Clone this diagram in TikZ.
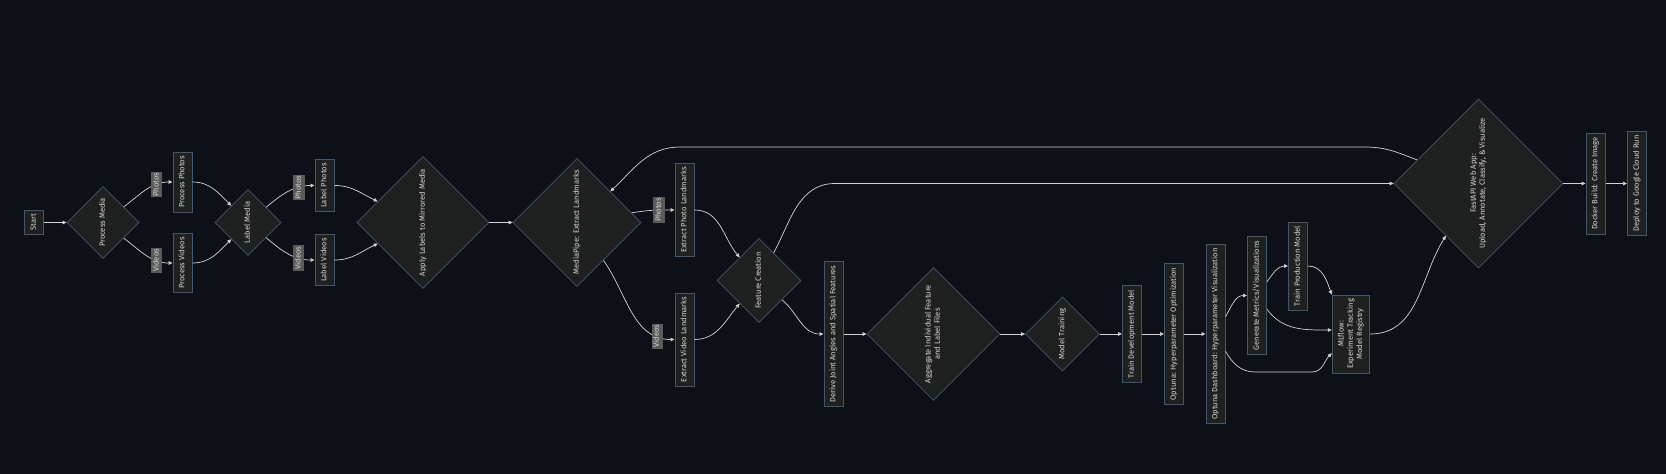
\documentclass[tikz,border=0pt]{standalone}
\usepackage{fontspec}
\setmainfont{Fira Sans}
\usepackage{graphicx}
\usetikzlibrary{shapes.geometric,arrows.meta}

\definecolor{bgdark}{HTML}{0D1117}
\definecolor{nodefill}{HTML}{1F2020}
\definecolor{nodeline}{HTML}{43566B}
\definecolor{flowline}{HTML}{D3D3D3}
\definecolor{nodetext}{HTML}{D6D6D6}
\definecolor{labelfill}{HTML}{5A5A5A}

\newcommand{\vtxt}[1]{\rotatebox{90}{\begin{tabular}{@{}c@{}}#1\end{tabular}}}
\newcommand{\vlab}[1]{\rotatebox{90}{\strut #1}}

\tikzset{
  vbox/.style={draw=nodeline, fill=nodefill, line width=0.8pt, text=nodetext,
    inner xsep=5pt, inner ysep=4pt, font=\fontsize{7.6}{9.2}\selectfont},
  vdia/.style={diamond, aspect=1, draw=nodeline, fill=nodefill, line width=0.8pt,
    text=nodetext, inner sep=0pt, minimum size=#1, font=\fontsize{7.6}{9.2}\selectfont},
  elabel/.style={fill=labelfill, text=nodetext, inner xsep=1pt, inner ysep=1pt,
    font=\fontsize{7.6}{9.2}\selectfont},
  flow/.style={draw=flowline, line width=0.7pt, -{Triangle[length=4pt,width=3.6pt]}}
}

\begin{document}
\begin{tikzpicture}[x=1pt,y=1pt]
  \fill[bgdark] (0,0) rectangle (1666,-474);
  \useasboundingbox (0,0) rectangle (1666,-474);

  \node[vbox] (start) at (34,-222.5) {\vtxt{Start}};
  \node[vdia=72pt] (pm) at (103,-222.5) {\vtxt{Process Media}};
  \node[vbox] (pp) at (182.5,-182) {\vtxt{Process Photos}};
  \node[vbox] (pv) at (182.5,-263) {\vtxt{Process Videos}};
  \node[vdia=66pt] (lm) at (248,-222.5) {\vtxt{Label Media}};
  \node[vbox] (lp) at (324.5,-185.5) {\vtxt{Label Photos}};
  \node[vbox] (lv) at (324.5,-260) {\vtxt{Label Videos}};
  \node[vdia=132pt] (al) at (423,-222.5) {\vtxt{Apply Labels to Mirrored Media}};
  \node[vdia=128pt] (mp) at (577,-222.5) {\vtxt{MediaPipe: Extract Landmarks}};
  \node[vbox] (epl) at (684.5,-210) {\vtxt{Extract Photo Landmarks}};
  \node[vbox] (evl) at (684.5,-339.5) {\vtxt{Extract Video Landmarks}};
  \node[vdia=84pt] (fc) at (759,-280.5) {\vtxt{Feature Creation}};
  \node[vbox] (dja) at (833.5,-334) {\vtxt{Derive Joint Angles and Spatial Features}};
  \node[vdia=133pt] (agg) at (933.5,-334) {\vtxt{Aggregate Individual Feature\\and Label Files}};
  \node[vdia=74pt] (mt) at (1062.5,-334) {\vtxt{Model Training}};
  \node[vbox] (tdm) at (1132,-334) {\vtxt{Train Development Model}};
  \node[vbox] (ohpo) at (1174,-334) {\vtxt{Optuna: Hyperparameter Optimization}};
  \node[vbox] (od) at (1215.5,-334) {\vtxt{Optuna Dashboard: Hyperparameter Visualization}};
  \node[vbox] (gm) at (1257,-295.5) {\vtxt{Generate Metrics/Visualizations}};
  \node[vbox] (tpm) at (1298,-266) {\vtxt{Train Production Model}};
  \node[vbox] (ml) at (1351,-334) {\vtxt{MLflow:\\Experiment Tracking\\Model Registry}};
  \node[vdia=169pt] (fa) at (1478.5,-183.5) {\vtxt{FastAPI Web App:\\Upload, Annotate, Classify, \& Visualize}};
  \node[vbox] (dbi) at (1595.5,-183.5) {\vtxt{Docker Build: Create Image}};
  \node[vbox] (dep) at (1637,-183.5) {\vtxt{Deploy to Google Cloud Run}};

  \coordinate (fbr) at (1365,-147);
  \coordinate (fbl) at (680,-147);
  \coordinate (fcr) at (835,-183.5);
  \coordinate (odl) at (1255,-372);
  \coordinate (odr) at (1312,-372);

  \draw[flow] (start) -- (pm);
  \draw[flow] (pm) to[out=37,in=180] node[elabel,pos=0.72] {\vlab{Photos}} (pp);
  \draw[flow] (pm) to[out=-37,in=180] node[elabel,pos=0.72] {\vlab{Videos}} (pv);
  \draw[flow] (pp) to[out=0,in=135] (lm);
  \draw[flow] (pv) to[out=0,in=-135] (lm);
  \draw[flow] (lm) to[out=40,in=180] node[elabel,pos=0.72] {\vlab{Photos}} (lp);
  \draw[flow] (lm) to[out=-40,in=180] node[elabel,pos=0.72] {\vlab{Videos}} (lv);
  \draw[flow] (lp) to[out=0,in=155] (al);
  \draw[flow] (lv) to[out=0,in=-155] (al);
  \draw[flow] (al) -- (mp);
  \draw[flow] (mp) to[out=10,in=180] node[elabel,pos=0.65] {\vlab{Photos}} (epl);
  \draw[flow] (mp) to[out=-55,in=180] node[elabel,pos=0.84] {\vlab{Videos}} (evl);
  \draw[flow] (epl) to[out=0,in=130] (fc);
  \draw[flow] (evl) to[out=0,in=-130] (fc);
  \draw[flow] (fc) to[out=-40,in=180] (dja);
  \draw[flow] (fc) to[out=62,in=180] (fcr) -- (fa);
  \draw[flow] (dja) -- (agg);
  \draw[flow] (agg) -- (mt);
  \draw[flow] (mt) -- (tdm);
  \draw[flow] (tdm) -- (ohpo);
  \draw[flow] (ohpo) -- (od);
  \draw[flow] (od) to[out=60,in=180] (gm);
  \draw[flow] (od) to[out=-60,in=180] (odl) -- (odr) to[out=0,in=-135] (ml);
  \draw[flow] (gm) to[out=54,in=180] (tpm);
  \draw[flow] (gm) to[out=-54,in=180] ([yshift=4pt]ml.west);
  \draw[flow] (tpm) to[out=0,in=110] (ml.north west);
  \draw[flow] (ml) to[out=0,in=-122] (fa);
  \draw[flow] (fa) to[out=159,in=0] (fbr) -- (fbl) to[out=180,in=43] (mp);
  \draw[flow] (fa) -- (dbi);
  \draw[flow] (dbi) -- (dep);
\end{tikzpicture}
\end{document}
